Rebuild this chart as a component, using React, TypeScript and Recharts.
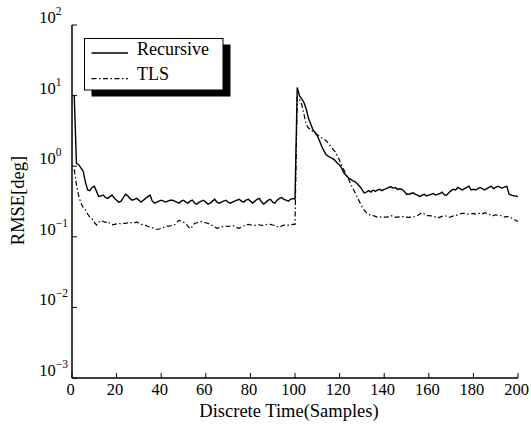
import React from 'react';
import { LineChart, Line, XAxis, YAxis, Legend } from 'recharts';

const recursiveRMSE = [
  10, 1.1, 1.05, 0.95, 0.85, 0.6, 0.46, 0.45, 0.5, 0.52,
  0.44, 0.37, 0.38, 0.39, 0.36, 0.35, 0.37, 0.39, 0.35, 0.33,
  0.31, 0.32, 0.36, 0.40, 0.38, 0.35, 0.33, 0.34, 0.35, 0.33,
  0.31, 0.33, 0.35, 0.37, 0.39, 0.32, 0.30, 0.31, 0.32, 0.33,
  0.32, 0.31, 0.32, 0.33, 0.33, 0.32, 0.31, 0.30, 0.32, 0.33,
  0.31, 0.30, 0.32, 0.33, 0.30, 0.29, 0.31, 0.32, 0.33, 0.31,
  0.29, 0.30, 0.32, 0.34, 0.31, 0.30, 0.31, 0.32, 0.33, 0.31,
  0.30, 0.31, 0.32, 0.33, 0.34, 0.32, 0.31, 0.33, 0.34, 0.32,
  0.30, 0.32, 0.34, 0.35, 0.31, 0.29, 0.31, 0.33, 0.34, 0.31,
  0.30, 0.33, 0.35, 0.36, 0.34, 0.33, 0.32, 0.34, 0.35, 0.34,
  13, 10, 9, 8, 6.5, 4.8, 4, 3.3, 3, 2.7,
  2.3, 1.9, 1.65, 1.45, 1.38, 1.32, 1.28, 1.2, 1.1, 1.04,
  0.92, 0.8, 0.74, 0.68, 0.65, 0.62, 0.6, 0.56, 0.52, 0.47,
  0.42, 0.43, 0.45, 0.43, 0.46, 0.44, 0.46, 0.47, 0.45, 0.47,
  0.48, 0.50, 0.51, 0.49, 0.50, 0.47, 0.48, 0.47, 0.44, 0.40,
  0.40, 0.41, 0.42, 0.40, 0.39, 0.37, 0.39, 0.40, 0.38, 0.39,
  0.40, 0.41, 0.39, 0.40, 0.41, 0.43, 0.39, 0.39, 0.42, 0.45,
  0.47, 0.46, 0.50, 0.48, 0.46, 0.48, 0.50, 0.52, 0.46, 0.47,
  0.46, 0.48, 0.50, 0.48, 0.46, 0.48, 0.50, 0.52, 0.48, 0.50,
  0.52, 0.50, 0.49, 0.51, 0.52, 0.40, 0.39, 0.38, 0.38, 0.37,
];

const tlsRMSE = [
  0.9, 0.55, 0.38, 0.30, 0.26, 0.24, 0.21, 0.19, 0.18, 0.16,
  0.147, 0.16, 0.17, 0.165, 0.16, 0.165, 0.155, 0.148, 0.15, 0.152,
  0.155, 0.152, 0.155, 0.155, 0.158, 0.156, 0.16, 0.158, 0.162, 0.155,
  0.15, 0.148, 0.145, 0.14, 0.138, 0.135, 0.13, 0.128, 0.128, 0.132,
  0.136, 0.14, 0.142, 0.143, 0.145, 0.148, 0.16, 0.172, 0.165, 0.16,
  0.155, 0.14, 0.13, 0.14, 0.155, 0.158, 0.162, 0.165, 0.16, 0.158,
  0.155, 0.15, 0.145, 0.138, 0.132, 0.135, 0.138, 0.14, 0.142, 0.14,
  0.142, 0.145, 0.14, 0.135, 0.132, 0.138, 0.142, 0.148, 0.15, 0.148,
  0.146, 0.145, 0.146, 0.148, 0.145, 0.146, 0.148, 0.15, 0.15, 0.147,
  0.145, 0.14, 0.136, 0.142, 0.146, 0.148, 0.146, 0.148, 0.15, 0.15,
  9.5, 8.8, 7.5, 5.5, 3.9, 3.5, 3.3, 3.1, 2.95, 2.8,
  2.65, 2.5, 2.4, 2.3, 2.1, 1.9, 1.75, 1.6, 1.4, 1.2,
  1.0, 0.88, 0.75, 0.66, 0.56, 0.48, 0.42, 0.36, 0.31, 0.27,
  0.24, 0.22, 0.21, 0.2, 0.2, 0.195, 0.19, 0.19, 0.192, 0.19,
  0.19, 0.192, 0.2, 0.195, 0.19, 0.19, 0.192, 0.195, 0.19, 0.19,
  0.188, 0.19, 0.19, 0.195, 0.2, 0.21, 0.22, 0.21, 0.2, 0.2,
  0.198, 0.195, 0.19, 0.185, 0.19, 0.195, 0.2, 0.195, 0.19, 0.192,
  0.198, 0.2, 0.205, 0.21, 0.215, 0.215, 0.21, 0.21, 0.212, 0.215,
  0.21, 0.212, 0.215, 0.21, 0.22, 0.215, 0.21, 0.2, 0.2, 0.205,
  0.2, 0.2, 0.195, 0.19, 0.195, 0.19, 0.185, 0.18, 0.17, 0.165,
];

// sample index 1..200
const samples = recursiveRMSE.map((_, i) => i + 1);

const xTicks = [0, 20, 40, 60, 80, 100, 120, 140, 160, 180, 200];
const yTicks = [0.001, 0.01, 0.1, 1, 10, 100];
const yTickExponents = ['\u22123', '\u22122', '\u22121', '0', '1', '2'];

const seriesNames = ['Recursive', 'TLS'];
const xTitle = 'Discrete Time(Samples)';
const yTitle = 'RMSE[deg]';

const data = samples.map((t, i) => ({ t, rec: recursiveRMSE[i], tls: tlsRMSE[i] }));

const FONT = '"Liberation Serif", "Times New Roman", serif';
const DASHDOT = '5 2.5 1.5 2.5';

const BottomTick = (props: any) => {
  const { x, y, payload } = props;
  return (
    <g>
      <line x1={x} y1={y} x2={x} y2={y - 5} stroke="#000" strokeWidth={1} />
      <text x={x - 1.5} y={y + 17} textAnchor="middle" fontSize={16.5} fontFamily={FONT} fill="#000">
        {payload.value}
      </text>
    </g>
  );
};

const TopTick = (props: any) => {
  const { x, y } = props;
  return <line x1={x} y1={y} x2={x} y2={y + 5} stroke="#000" strokeWidth={1} />;
};

const LeftTick = (props: any) => {
  const { x, y, payload } = props;
  const idx = yTicks.indexOf(payload.value);
  return (
    <g>
      <line x1={x} y1={y} x2={x + 5} y2={y} stroke="#000" strokeWidth={1} />
      <text x={x - 32.7} y={y - 2} textAnchor="start" fontSize={16.5} fontFamily={FONT} fill="#000">
        10
        <tspan dy={-8} fontSize={11.5}>{yTickExponents[idx]}</tspan>
      </text>
    </g>
  );
};

const RightTick = (props: any) => {
  const { x, y } = props;
  return <line x1={x} y1={y} x2={x - 5} y2={y} stroke="#000" strokeWidth={1} />;
};

const LegendBox = () => (
  <svg width={150} height={62} style={{ display: 'block' }}>
    <rect x={7.5} y={6.5} width={139} height={52} fill="#000" />
    <rect x={0.5} y={0.5} width={138.5} height={51.5} fill="#fff" stroke="#000" strokeWidth={1} />
    <line x1={7.5} x2={44} y1={15} y2={15} stroke="#000" strokeWidth={1.3} />
    <text x={53} y={16.7} fontSize={18} fontFamily={FONT} fill="#000">{seriesNames[0]}</text>
    <line x1={7.5} x2={44} y1={40.7} y2={40.7} stroke="#000" strokeWidth={1.3} strokeDasharray={DASHDOT} />
    <text x={53} y={41.7} fontSize={18} fontFamily={FONT} fill="#000">{seriesNames[1]}</text>
  </svg>
);

const XTitle = (props: any) => {
  const { viewBox } = props;
  return (
    <text
      x={viewBox.x + viewBox.width / 2 - 6}
      y={viewBox.y + 39}
      textAnchor="middle"
      fontSize={18.5}
      fontFamily={FONT}
      fill="#000"
    >
      {xTitle}
    </text>
  );
};

const YTitle = (props: any) => {
  const { viewBox } = props;
  const cx = 17.5;
  const cy = viewBox.y + viewBox.height / 2 - 1;
  return (
    <text
      x={cx}
      y={cy}
      transform={`rotate(-90 ${cx} ${cy})`}
      textAnchor="middle"
      dominantBaseline="central"
      fontSize={18.5}
      fontFamily={FONT}
      fill="#000"
    >
      {yTitle}
    </text>
  );
};

export default function App() {
  return (
    <div style={{ position: 'absolute', left: 0, top: 0, width: 531, height: 427, background: '#fff' }}>
      <LineChart
        width={531}
        height={427}
        data={data}
        margin={{ top: 25, right: 13, bottom: 0, left: 0 }}
      >
        <XAxis
          xAxisId="b"
          dataKey="t"
          type="number"
          domain={[0, 200]}
          ticks={xTicks}
          interval={0}
          height={49}
          tickSize={0}
          tickMargin={0}
          tickLine={false}
          tick={<BottomTick />}
          axisLine={{ stroke: '#000', strokeWidth: 1.5 }}
          label={<XTitle />}
          allowDataOverflow
        />
        <XAxis
          xAxisId="t"
          dataKey="t"
          type="number"
          orientation="top"
          domain={[0, 200]}
          ticks={xTicks}
          interval={0}
          height={0}
          tickSize={0}
          tickMargin={0}
          tickLine={false}
          tick={<TopTick />}
          axisLine={{ stroke: '#000', strokeWidth: 1.5 }}
          allowDataOverflow
        />
        <YAxis
          yAxisId="l"
          type="number"
          scale="log"
          domain={[0.001, 100]}
          ticks={yTicks}
          interval={0}
          width={72}
          tickSize={0}
          tickMargin={0}
          tickLine={false}
          tick={<LeftTick />}
          axisLine={{ stroke: '#000', strokeWidth: 1.5 }}
          label={<YTitle />}
          allowDataOverflow
        />
        <YAxis
          yAxisId="r"
          orientation="right"
          type="number"
          scale="log"
          domain={[0.001, 100]}
          ticks={yTicks}
          interval={0}
          width={0}
          tickSize={0}
          tickMargin={0}
          tickLine={false}
          tick={<RightTick />}
          axisLine={{ stroke: '#000', strokeWidth: 1.5 }}
          allowDataOverflow
        />
        <Line
          xAxisId="b"
          yAxisId="l"
          type="linear"
          dataKey="rec"
          name={seriesNames[0]}
          stroke="#000"
          strokeWidth={1.4}
          dot={false}
          isAnimationActive={false}
        />
        <Line
          xAxisId="b"
          yAxisId="l"
          type="linear"
          dataKey="tls"
          name={seriesNames[1]}
          stroke="#000"
          strokeWidth={1.2}
          strokeDasharray={DASHDOT}
          dot={false}
          isAnimationActive={false}
        />
        <Legend
          layout="horizontal"
          verticalAlign="middle"
          align="center"
          content={<LegendBox />}
          wrapperStyle={{ left: 84.3, top: 38.3, width: 150, height: 62, right: 'auto', bottom: 'auto' }}
        />
      </LineChart>
    </div>
  );
}
